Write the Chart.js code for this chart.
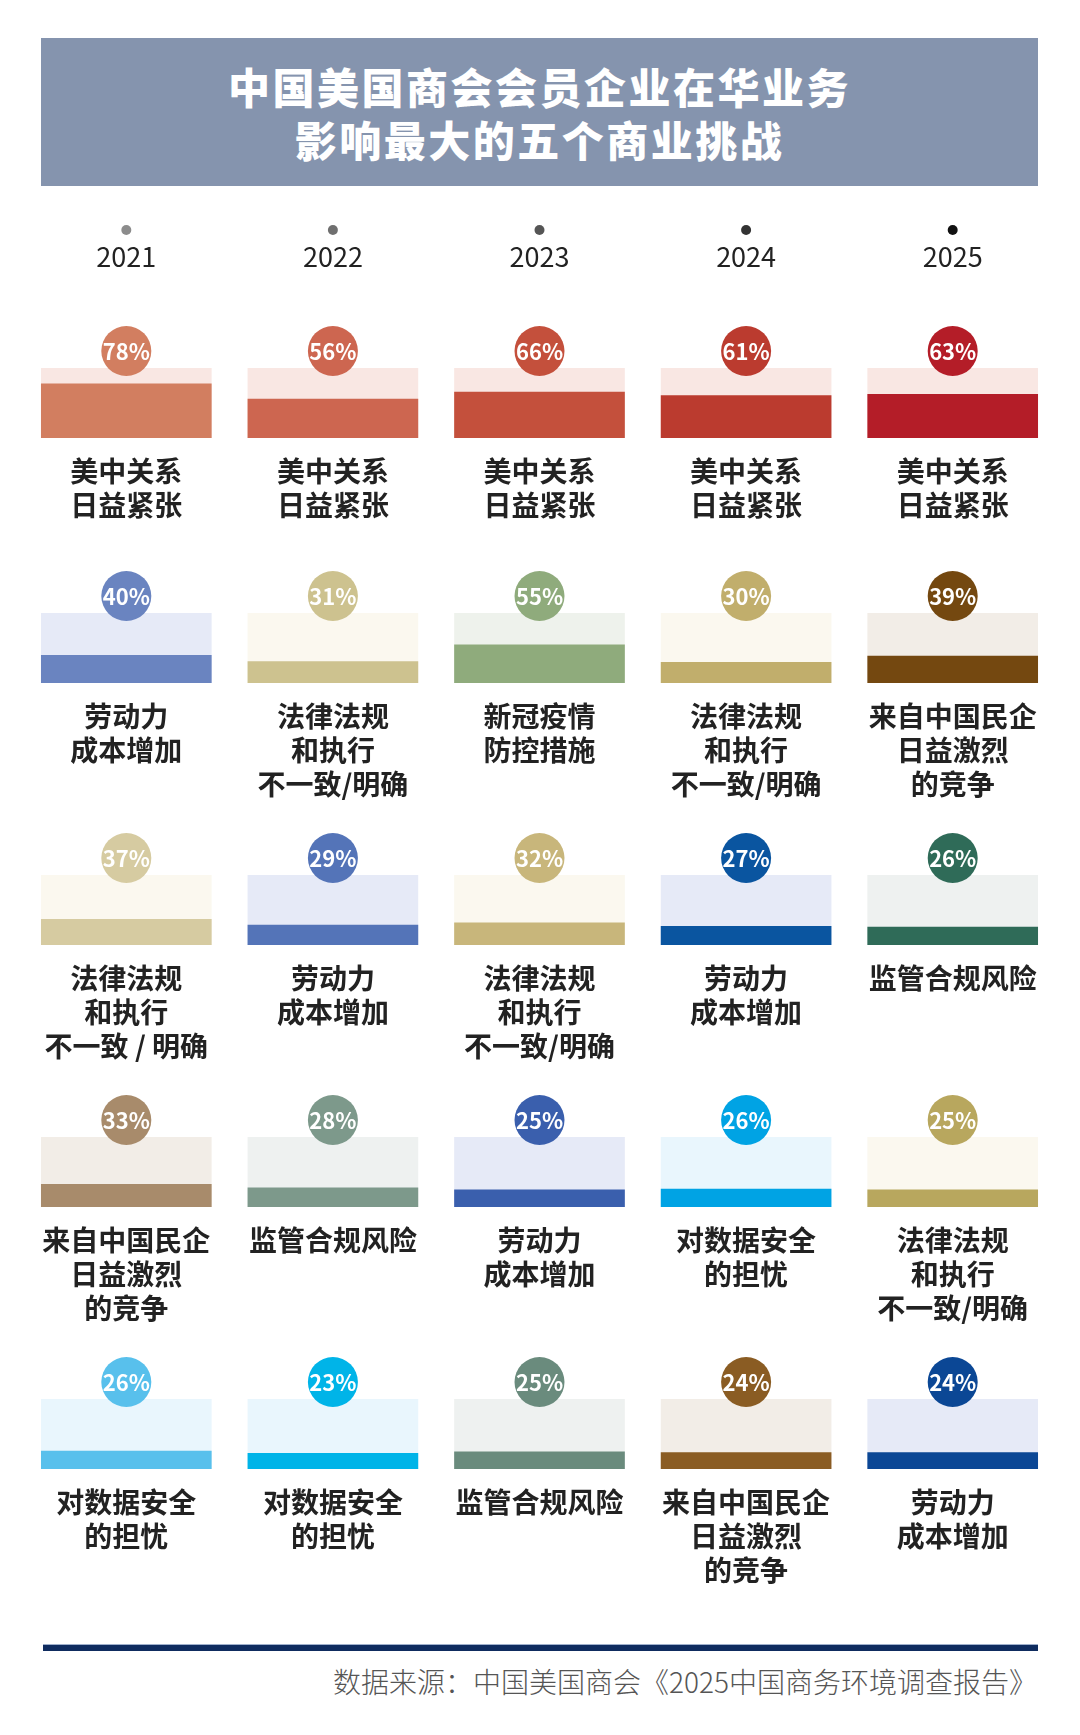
<!DOCTYPE html>
<html lang="zh-CN">
<head>
<meta charset="utf-8">
<script src="https://cdn.jsdelivr.net/npm/chart.js@4.4.1/dist/chart.umd.min.js"></script>
<style>
  html, body { margin: 0; padding: 0; background: #fff; }
  body { width: 1080px; height: 1735px; position: relative; overflow: hidden;
         font-family: "Noto Sans CJK SC", "Noto Sans", sans-serif; }
  .banner { position: absolute; left: 41px; top: 38px; width: 997px; height: 148px;
            background: #8594ae; color: #fff; display: flex; align-items: center;
            justify-content: center; text-align: center; }
  .banner h1 { margin: 0; font-family: "Noto Sans CJK SC", sans-serif;
               font-size: 42px; font-weight: 900; line-height: 53px; letter-spacing: 2.5px; }
  .row { position: absolute; left: 23px; }
  .rule { position: absolute; left: 43px; top: 1644px; width: 995px; height: 6px;
          background: #0f2c5f; border-top: 1px solid #9fb0cc; }
  .source { position: absolute; right: 43px; top: 1663px; font-size: 28px; font-weight: 300;
            color: #555; line-height: 36px; white-space: nowrap; }
</style>
</head>
<body>
<div class="banner"><h1>中国美国商会会员企业在华业务<br>影响最大的五个商业挑战</h1></div>
<div id="rows"></div>
<div class="rule"></div>
<div class="source">数据来源：中国美国商会《2025中国商务环境调查报告》</div>
<script>
// survey years (columns)
const years = ['2021', '2022', '2023', '2024', '2025'];

// share of members naming each challenge, rank 1..5 per year
const rank1Values = [78, 56, 66, 61, 63];
const rank2Values = [40, 31, 55, 30, 39];
const rank3Values = [37, 29, 32, 27, 26];
const rank4Values = [33, 28, 25, 26, 25];
const rank5Values = [26, 23, 25, 24, 24];

// which challenge sits at each rank
const rank1Issues = ['relations', 'relations', 'relations', 'relations', 'relations'];
const rank2Issues = ['labor', 'law', 'covid', 'law', 'competition'];
const rank3Issues = ['lawWide', 'labor', 'law', 'labor', 'compliance'];
const rank4Issues = ['competition', 'compliance', 'labor', 'data', 'law'];
const rank5Issues = ['data', 'data', 'compliance', 'competition', 'labor'];

const issueLabels = {
  relations: '美中关系\n日益紧张',
  labor: '劳动力\n成本增加',
  law: '法律法规\n和执行\n不一致/明确',
  lawWide: '法律法规\n和执行\n不一致 / 明确',
  covid: '新冠疫情\n防控措施',
  competition: '来自中国民企\n日益激烈\n的竞争',
  compliance: '监管合规风险',
  data: '对数据安全\n的担忧'
};

// colours: light track + one shade per year
const palette = {
  relations:   { light: '#f9e7e3', shades: ['#d27e60', '#cd6650', '#c4503c', '#bb3b2f', '#b41d28'] },
  labor:       { light: '#e6eaf7', shades: ['#6a84c0', '#5474b8', '#3a5fad', '#0a55a0', '#0b4795'] },
  law:         { light: '#fbf8ef', shades: ['#d6cba1', '#cdc28f', '#c8b67b', '#c1ae6c', '#b8a75e'] },
  covid:       { light: '#eef2ec', shades: ['#8fab7c', '#8fab7c', '#8fab7c', '#8fab7c', '#8fab7c'] },
  competition: { light: '#f2ede7', shades: ['#a88b6b', '#9c7a52', '#91693a', '#8a5c23', '#744810'] },
  compliance:  { light: '#eef1f0', shades: ['#839e91', '#7d998b', '#6a8b7d', '#4d7d6b', '#2f6b58'] },
  data:        { light: '#e9f6fd', shades: ['#58c0ec', '#00b4e8', '#10aae8', '#00a3e4', '#0096dc'] }
};
palette.lawWide = palette.law;

const ranks = [
  { values: rank1Values, issues: rank1Issues },
  { values: rank2Values, issues: rank2Issues },
  { values: rank3Values, issues: rank3Issues },
  { values: rank4Values, issues: rank4Issues },
  { values: rank5Values, issues: rank5Issues }
];

// layout
const rowTops = [368, 613, 875, 1137, 1399];   // top edge of the bar track
const trackH = 70;
const padBottom = 125;
const dotColors = ['#8c8c8c', '#6f6f6f', '#555555', '#333333', '#111111'];
const labelFont = '700 28px "Noto Sans CJK SC", sans-serif';

const cellPlugin = {
  id: 'cells',
  afterDatasetsDraw(chart, args, opts) {
    const { ctx, scales: { x, y } } = chart;
    const top = y.getPixelForValue(100);
    const bottom = y.getPixelForValue(0);
    ctx.save();
    ctx.textAlign = 'center';
    ctx.textBaseline = 'middle';
    opts.values.forEach((v, i) => {
      const cx = x.getPixelForValue(i);
      // badge
      ctx.beginPath();
      ctx.arc(cx, top - 17, 25, 0, Math.PI * 2);
      ctx.fillStyle = opts.badges[i];
      ctx.fill();
      ctx.fillStyle = '#fff';
      ctx.font = '700 22px "Noto Sans CJK SC", sans-serif';
      ctx.fillText(v + '%', cx, top - 16);
      // label
      ctx.fillStyle = '#222';
      ctx.font = labelFont;
      opts.labels[i].split('\n').forEach((line, k) => {
        ctx.fillText(line, cx, bottom + 33 + k * 34);
      });
    });
    if (opts.header) {
      years.forEach((yr, i) => {
        const cx = x.getPixelForValue(i);
        ctx.beginPath();
        ctx.arc(cx, top - 138, 5, 0, Math.PI * 2);
        ctx.fillStyle = dotColors[i];
        ctx.fill();
        ctx.fillStyle = '#222';
        ctx.font = '400 27px "Noto Sans CJK SC", sans-serif';
        ctx.fillText(yr, cx, top - 111);
      });
    }
    ctx.restore();
  }
};

const holder = document.getElementById('rows');
ranks.forEach((rank, r) => {
  const padTop = r === 0 ? 160 : 45;
  const canvas = document.createElement('canvas');
  canvas.className = 'row';
  canvas.width = 1033;
  canvas.height = padTop + trackH + padBottom;
  canvas.style.top = (rowTops[r] - padTop) + 'px';
  holder.appendChild(canvas);

  const shades = rank.issues.map((k, i) => palette[k].shades[i]);
  const lights = rank.issues.map(k => palette[k].light);

  new Chart(canvas, {
    type: 'bar',
    data: {
      labels: years,
      datasets: [{
        label: 'share',
        data: rank.values,
        backgroundColor: shades,
        grouped: false,
        order: 0
      }, {
        label: 'track',
        data: rank.values.map(() => 100),
        backgroundColor: lights,
        grouped: false,
        order: 1
      }]
    },
    options: {
      responsive: false,
      animation: false,
      devicePixelRatio: 1,
      layout: { padding: { top: padTop, bottom: padBottom, left: 0, right: 0 } },
      datasets: { bar: { categoryPercentage: 0.826, barPercentage: 1, borderWidth: 0 } },
      scales: {
        x: { display: false },
        y: { display: false, min: 0, max: 100 }
      },
      plugins: {
        legend: { display: false },
        tooltip: { enabled: false },
        cells: {
          values: rank.values,
          badges: shades,
          labels: rank.issues.map(k => issueLabels[k]),
          header: r === 0
        }
      }
    },
    plugins: [cellPlugin]
  });
});
</script>
</body>
</html>
